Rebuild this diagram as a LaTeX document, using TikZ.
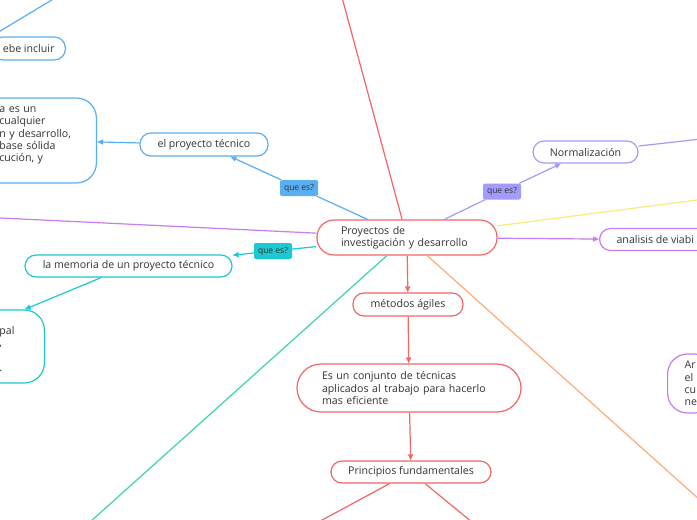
\documentclass[tikz,border=0pt]{standalone}
\usepackage{fontspec}
\setmainfont{Open Sans}
\usetikzlibrary{arrows.meta}

\definecolor{mmred}{HTML}{F26666}
\definecolor{mmblue}{HTML}{5AAEF2}
\definecolor{mmteal}{HTML}{1CC8D2}
\definecolor{mmlav}{HTML}{A39BFB}
\definecolor{mmviolet}{HTML}{C77DEB}
\definecolor{mmgreen}{HTML}{3DD6A0}
\definecolor{mmorange}{HTML}{FFAA77}
\definecolor{mmyellow}{HTML}{F5EE7A}
\definecolor{mmtext}{HTML}{333333}

\begin{document}
\begin{tikzpicture}[x=1pt, y=-1pt,
    topic/.style={draw, line width=1.2pt, fill=white, text=mmtext, rounded corners=11pt,
        inner ysep=2pt, font=\fontsize{10.6}{12.4}\selectfont},
    bigtopic/.style={topic, rounded corners=20pt, align=left},
    askbox/.style={fill=#1, rounded corners=2pt, text=mmtext, inner sep=1pt,
        minimum width=38pt, minimum height=16pt, font=\fontsize{8.5}{9}\selectfont},
    link/.style={line width=1.2pt, draw=#1},
    arrowlink/.style={link=#1, -{Triangle[length=6pt,width=5pt]}}]
    %% white page and the frame that cuts the outer topics
    \fill[white] (0,0) rectangle (697,520);
    \useasboundingbox (0,0) rectangle (697,520);
    \clip (0,0) rectangle (697,520);

    %% central topic and the red branch below it
    \node[topic, draw=mmred, rounded corners=17pt, text width=132pt, inner xsep=24pt,
        minimum height=35pt, align=left] (proy) at (407,237.5)
        {Proyectos de\\investigación y desarrollo};
    \node[topic, draw=mmred, minimum width=110pt, minimum height=23pt] (agiles) at (408,304.5) {métodos ágiles};
    \node[topic, draw=mmred, rounded corners=24pt, text width=174pt, inner xsep=25pt,
        minimum height=48pt, align=left] (conjunto) at (409,388)
        {Es un conjunto de técnicas\\aplicados al trabajo para hacerlo\\mas eficiente};
    \node[topic, draw=mmred, minimum width=160pt, minimum height=22pt] (princ) at (411,472) {Principios fundamentales};

    %% blue branch
    \node[askbox=mmblue] (askA) at (299,188) {que es?};
    \node[topic, draw=mmblue, minimum width=128pt, minimum height=23pt] (tecnico) at (204,144.5) {el proyecto técnico};
    \node[bigtopic, draw=mmblue, anchor=east, text width=77pt, inner xsep=20pt,
        minimum height=85pt] (defin) at (97,140.5)
        {a es un\\cualquier\\n y desarrollo,\\base sólida\\cución, y\\\mbox{}};
    \node[topic, draw=mmblue, anchor=east, inner xsep=11pt, minimum height=23pt] (incluir) at (66,48.5) {ebe incluir};

    %% teal branch
    \node[askbox=mmteal] (askB) at (273,251) {que es?};
    \node[topic, draw=mmteal, minimum width=207pt, minimum height=22pt] (memoria) at (128.5,266) {la memoria de un proyecto técnico};
    \node[bigtopic, draw=mmteal, anchor=east, text width=25pt, inner xsep=20pt,
        minimum height=73pt] (princpal) at (45,346.5)
        {\mbox{}\\pal\\,\\\mbox{}\\.};

    %% lilac and violet branches
    \node[askbox=mmlav] (askC) at (502,191.5) {que es?};
    \node[topic, draw=mmlav, minimum width=105pt, minimum height=22pt] (norma) at (585.5,152) {Normalización};
    \node[topic, draw=mmviolet, anchor=west, inner xsep=17pt, minimum height=22pt] (viab) at (599,239.5) {analisis de viabi};
    \node[bigtopic, draw=mmviolet, anchor=west, inner xsep=17pt, minimum height=59pt] (anal) at (667,383.5)
        {Ar\\el\\cu\\ne};

    %% free ends of the branches that leave the picture
    \coordinate (redtop) at (340,-10);
    \coordinate (blueup) at (60,-5);
    \coordinate (violeft) at (-10,217.5);
    \coordinate (greenend) at (80,531);
    \coordinate (orangeend) at (710,509);
    \coordinate (yellowend) at (710,198.3);
    \coordinate (lavend) at (710,138);
    \coordinate (princL) at (300,532);
    \coordinate (princR) at (484,532);

    %% connectors
    \draw[link=mmred] (proy) -- (redtop);
    \draw[arrowlink=mmred] (proy) -- (agiles);
    \draw[arrowlink=mmred] (agiles) -- (conjunto);
    \draw[arrowlink=mmred] (conjunto) -- (princ);
    \draw[arrowlink=mmred] (princ) -- (princL);
    \draw[arrowlink=mmred] (princ) -- (princR);
    \draw[link=mmblue] (proy) -- (askA);
    \draw[arrowlink=mmblue] (askA) -- (tecnico);
    \draw[arrowlink=mmblue] (tecnico) -- (defin);
    \draw[link=mmblue] (blueup) -- (incluir.north west);
    \draw[link=mmteal] (proy) -- (askB);
    \draw[arrowlink=mmteal] (askB) -- (memoria);
    \draw[arrowlink=mmteal] (memoria.203) -- (princpal.71);
    \draw[link=mmlav] (proy) -- (askC);
    \draw[arrowlink=mmlav] (askC) -- (norma);
    \draw[link=mmlav] (norma) -- (lavend);
    \draw[arrowlink=mmviolet] (proy) -- (viab);
    \draw[link=mmviolet] (proy) -- (violeft);
    \draw[link=mmyellow] (proy) -- (yellowend);
    \draw[link=mmgreen] (proy) -- (greenend);
    \draw[link=mmorange] (proy) -- (orangeend);
\end{tikzpicture}
\end{document}
